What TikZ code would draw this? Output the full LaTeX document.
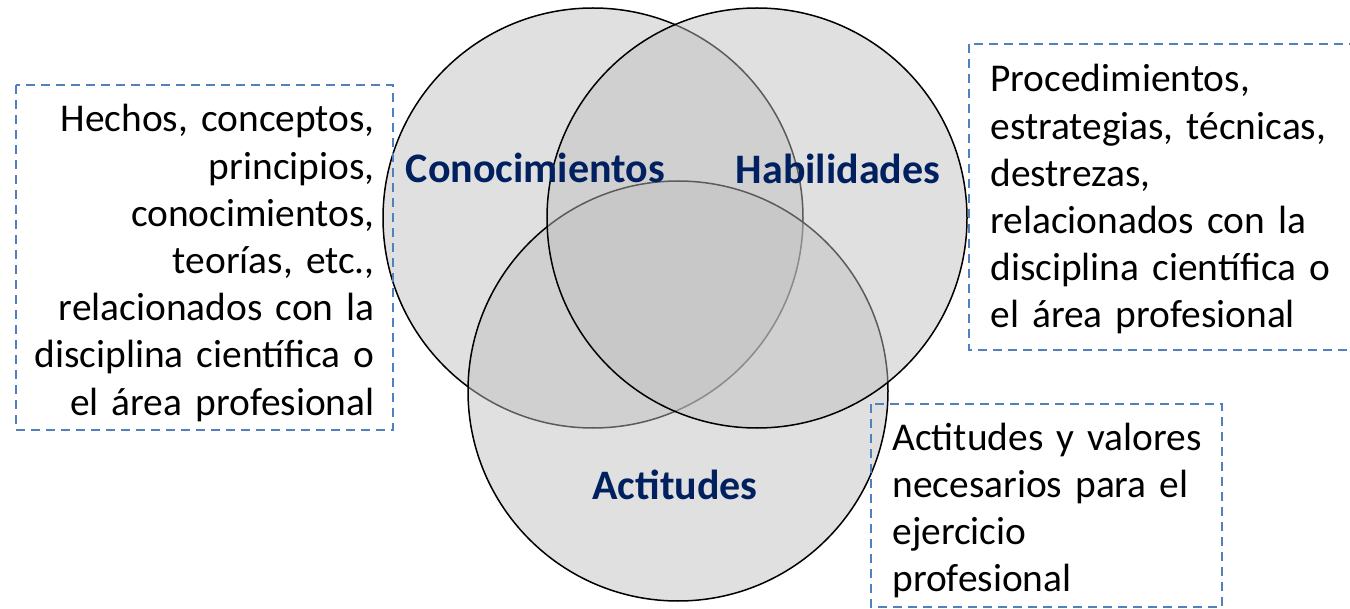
\documentclass[tikz,border=0pt]{standalone}
\usepackage{fontspec}
\setmainfont{Carlito}
\usetikzlibrary{shapes.geometric}
\definecolor{setnavy}{RGB}{0,32,96}
\definecolor{boxblue}{RGB}{79,129,189}

\begin{document}
\begin{tikzpicture}[x=0.5pt, y=-0.5pt,
     setcircle/.style={circle, minimum size=210pt, inner sep=0pt, draw=black, line width=0.75pt,
                       fill=black!25, fill opacity=0.48, draw opacity=1},
     setlabel/.style={anchor=base, inner sep=0pt, text=setnavy,
                      font=\fontsize{21}{25}\selectfont\bfseries},
     dashbox/.style={draw=boxblue, line width=1pt, dash pattern=on 4.5pt off 3pt},
     bodytext/.style={inner sep=0pt, text width=180pt,
                      font=\fontsize{19.7}{23.6}\selectfont}]

   \useasboundingbox (0,0) rectangle (1350,609);

   % the three sets, drawn in this order so the outlines overlap as in the original
   \node[setcircle] (conoc) at (593,218) {};
   \node[setcircle] (actit) at (678,391) {};
   \node[setcircle] (habil) at (757,218) {};

   \node[setlabel] (conoclab) at (535.5,182.5) {Conocimientos};
   \node[setlabel] (habillab) at (838,184) {Habilidades};
   \node[setlabel] (actitlab) at (675,499) {Actitudes};

   % dashed boxes with the descriptions
   \draw[dashbox] (16,85) rectangle (393,430);
   \draw[dashbox] (969,44) rectangle (1360,350);
   \draw[dashbox] (871,404) rectangle (1222,607);

   \node[bodytext, align=right, anchor=base east] (conoctext) at (375,132)
     {Hechos, conceptos,\\ principios,\\ conocimientos,\\ teorías, etc.,\\
      relacionados con la\\ disciplina científica o\\ el área profesional};
   \node[bodytext, align=left, anchor=base west] (habiltext) at (990,92)
     {Procedimientos,\\ estrategias, técnicas,\\ destrezas,\\ relacionados con la\\
      disciplina científica o\\ el área profesional};
   \node[bodytext, align=left, anchor=base west] (actittext) at (892,450)
     {Actitudes y valores\\ necesarios para el\\ ejercicio\\ profesional};
\end{tikzpicture}
\end{document}
